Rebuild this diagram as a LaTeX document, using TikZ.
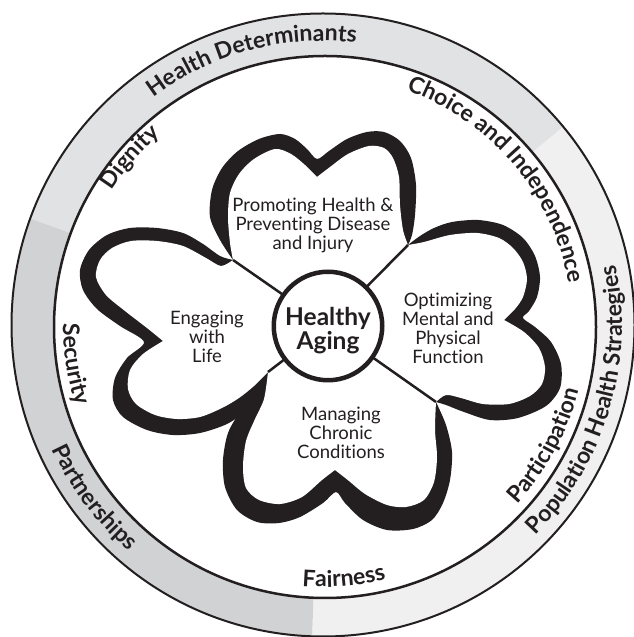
\documentclass[tikz,border=0pt]{standalone}
\usepackage{fontspec}
\setmainfont{Lato}[Ligatures=NoCommon]
\usetikzlibrary{decorations.text}

\definecolor{bandtop}{HTML}{E1E2E3}
\definecolor{bandright}{HTML}{F0F0F0}
\definecolor{bandleft}{HTML}{D1D2D4}
\definecolor{ink}{HTML}{231F20}

\newcommand\ringfont{\fontsize{23}{23}\selectfont\bfseries\color{ink}}

\tikzset{
  ringlabel/.style={decorate, decoration={text along path, text align=center, text={|\ringfont|#1}}},
  petaltext/.style={align=center, text=ink, font=\fontsize{18.5}{19}\selectfont},
  hubtext/.style={align=center, text=ink, font=\fontsize{24.5}{24}\selectfont\bfseries},
  hub/.style={circle, draw=ink, fill=white, line width=4.5pt, minimum size=108.5pt, inner sep=0pt},
  petaledge/.style={fill=ink},
  petalface/.style={fill=white},
  seam/.style={draw=ink, line width=2.5pt},
}

\begin{document}
\begin{tikzpicture}[x=1pt, y=1pt]
\useasboundingbox (0,0) rectangle (634,637);
\coordinate (o) at (323,312);
\coordinate (io) at (325,310);

% outer ring
\fill[bandtop] (o) -- ++(160:311.5) arc[start angle=160, end angle=39.5, radius=311.5] -- cycle;
\fill[bandright] (o) -- ++(39.5:311.5) arc[start angle=39.5, end angle=-92, radius=311.5] -- cycle;
\fill[bandleft] (o) -- ++(268:311.5) arc[start angle=268, end angle=160, radius=311.5] -- cycle;
\fill[white] (io) circle[radius=271];
\draw[ink, line width=2pt] (o) circle[radius=311.5];
\draw[ink, line width=2.5pt] (io) circle[radius=271];

% ring labels
\path[ringlabel={Health Determinants}] ([shift={(175:284)}]o) arc[start angle=175, end angle=35, radius=284];
\path[ringlabel={Population Health Strategies}] ([shift={(-86.5:299)}]o) arc[start angle=-86.5, end angle=53.5, radius=299];
\path[ringlabel={Partnerships}] ([shift={(147:298)}]o) arc[start angle=147, end angle=287, radius=298];
\path[ringlabel={Dignity}] ([shift={(209:250)}]o) arc[start angle=209, end angle=69, radius=250];
\path[ringlabel={Choice and Independence}] ([shift={(110:249)}]o) arc[start angle=110, end angle=-30, radius=249];
\path[ringlabel={Participation}] ([shift={(-98.5:264)}]o) arc[start angle=-98.5, end angle=41.5, radius=264];
\path[ringlabel={Fairness}] ([shift={(-155.3:262)}]o) arc[start angle=-155.3, end angle=-15.3, radius=262];
\path[ringlabel={Security}] ([shift={(119:260)}]o) arc[start angle=119, end angle=259, radius=260];

% flower, in picture coordinates (y down)
\begin{scope}[shift={(0,637)}, yscale=-1]
  \coordinate (hc) at (328,326);
  \coordinate (jtl) at (233,260);
  \coordinate (jtr) at (408,245);
  \coordinate (jbr) at (436,402);
  \coordinate (jbl) at (268,372);

  % top petal
  \fill[petaledge] plot[smooth] coordinates {(jtl) (220,240) (210,217) (212,190) (222,168) (238,151) (259,139) (280,134) (295,139) (307,149) (317,159) (329,151) (347,139) (367,132) (384,132) (400,141) (411,158) (416,185) (415,215) (412,235) (jtr)} -- (hc) -- cycle;
  \fill[petalface] plot[smooth] coordinates {(jtl) (230,243) (228,217) (230,193) (239,174) (254,159) (275,149) (291,154) (305,165) (317,177)}
    -- plot[smooth] coordinates {(317,177) (330,167) (348,154) (369,146) (384,148) (393,158) (399,177) (400,205) (403,230) (jtr)} -- (hc) -- cycle;

  % right petal
  \fill[petaledge] plot[smooth] coordinates {(jtr) (420,236) (434,228) (452,222) (478,220) (503,225) (523,238) (535,256) (540,277) (537,297) (529,311) (523,318) (535,327) (551,342) (561,364) (560,388) (546,406) (518,418) (490,420) (464,412) (446,405) (jbr)} -- (hc) -- cycle;
  \fill[petalface] plot[smooth] coordinates {(jtr) (424,242) (450,235) (477,233) (499,238) (513,248) (523,262) (527,279) (523,297) (515,309) (504,320)}
    -- plot[smooth] coordinates {(504,320) (524,332) (539,348) (545,367) (542,384) (530,396) (509,404) (483,404) (461,398) (446,395) (jbr)} -- (hc) -- cycle;

  % bottom petal
  \fill[petaledge] plot[smooth] coordinates {(jbr) (446,425) (452,452) (450,480) (443,503) (432,520) (413,529) (387,530) (363,520) (345,503) (336,492) (323,503) (300,517) (279,523) (257,522) (237,510) (225,487) (223,460) (228,433) (240,412) (256,392) (jbl)} -- (hc) -- cycle;
  \fill[petalface] plot[smooth] coordinates {(jbr) (435,430) (437,457) (434,482) (424,500) (406,507) (387,505) (365,494) (349,481) (335,470)}
    -- plot[smooth] coordinates {(335,470) (322,480) (302,497) (280,504) (259,500) (246,488) (243,467) (246,441) (255,419) (264,399) (jbl)} -- (hc) -- cycle;

  % left petal
  \fill[petaledge] plot[smooth] coordinates {(jtl) (220,256) (203,244) (183,233) (157,228) (130,228) (107,235) (89,250) (80,270) (83,290) (97,309) (120,326) (144,342) (127,358) (115,378) (113,400) (123,417) (147,430) (173,435) (200,433) (227,424) (245,411) (258,394) (jbl)} -- (hc) -- cycle;
  \fill[petalface] plot[smooth] coordinates {(jtl) (221,266) (206,258) (183,246) (157,241) (131,241) (112,248) (100,260) (96,277) (106,295) (125,311) (147,328) (163,341)}
    -- plot[smooth] coordinates {(163,341) (143,354) (130,370) (128,389) (136,404) (155,415) (177,419) (200,417) (222,408) (239,398) (254,386) (jbl)} -- (hc) -- cycle;

  \draw[seam] (jtl) -- (hc);
  \draw[seam] (jtr) -- (hc);
  \draw[seam] (jbr) -- (hc);
  \draw[seam] (jbl) -- (hc);

  \node[hub] (hub) at (hc) {};
  \node[hubtext] (aging) at (328,331) {Healthy\\Aging};

  \node[petaltext] (promote) at (313,225) {Promoting Health \&\\Preventing Disease\\and Injury};
  \node[petaltext] (optimize) at (448,328) {Optimizing\\Mental and\\Physical\\Function};
  \node[petaltext] (engage) at (207,337) {Engaging\\with\\Life};
  \node[petaltext] (manage) at (341,433) {Managing\\Chronic\\Conditions};
\end{scope}
\end{tikzpicture}
\end{document}
